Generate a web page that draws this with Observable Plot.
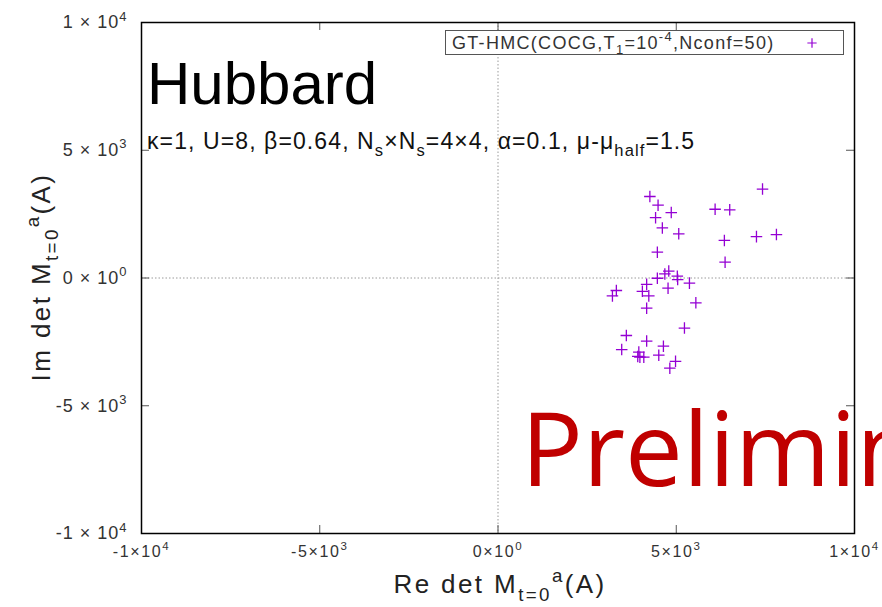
<!DOCTYPE html>
<html><head><meta charset="utf-8">
<script src="https://cdn.jsdelivr.net/npm/d3@7"></script>
<script src="https://cdn.jsdelivr.net/npm/@observablehq/plot@0.6"></script>
<style>
html,body{margin:0;padding:0;background:#fff;}
#chart svg{display:block;font-family:"Liberation Sans",Arial,sans-serif;}
</style>
</head><body><div id="chart"></div>
<script>
// ---- data ----
const reDet = [4260,4490,4860,4420,4610,5070,4470,7420,6090,6500,6350,7250,7810,6370,4790,4680,4470,5030,5040,5370,4170,4770,3320,3210,4050,4230,5550,4170,5230,3600,4170,4640,3470,3950,3980,4090,3920,4510,4980,4820];
const imDet = [3190,2850,2560,2360,1960,1730,1010,3480,2690,2670,1470,1620,1700,620,270,160,-10,70,-60,-200,-250,-400,-490,-700,-520,-700,-970,-1180,-1960,-2250,-2470,-2670,-2800,-2900,-3100,-3100,-3070,-3020,-3260,-3530];
const xTicks = [-10000,-5000,0,5000,10000];
const xTickLabels = ["-1×10^4","-5×10^3","0×10^0","5×10^3","1×10^4"];
const yTicks = [-10000,-5000,0,5000,10000];
const yTickLabels = ["-1 × 10^4","-5 × 10^3","0 × 10^0","5 × 10^3","1 × 10^4"];
const seriesName = "GT-HMC(COCG,T_1=10^{-4},Nconf=50)";
const xLabel = "Re det M_{t=0}^a(A)";
const yLabel = "Im det M_{t=0}^a(A)";
const titleText = "Hubbard";
const paramText = "κ=1, U=8, β=0.64, N_s×N_s=4×4, α=0.1, μ-μ_{half}=1.5";
const stampText = "Preliminary";

const W = 882, H = 607, mL = 141, mR = 28, mT = 22, mB = 74;
const pw = W - mL - mR, ph = H - mT - mB, tk = 8;
const color = "#9400d3";

const points = reDet.map((x, i) => ({x, y: imDet[i]}));
const xMap = new Map(xTicks.map((t, i) => [t, xTickLabels[i]]));
const yMap = new Map(yTicks.map((t, i) => [t, yTickLabels[i]]));

const chart = Plot.plot({
  width: W, height: H,
  marginLeft: mL, marginRight: mR, marginTop: mT, marginBottom: mB,
  x: {domain: [-10000, 10000]},
  y: {domain: [-10000, 10000]},
  style: {fontFamily: "Liberation Sans, Arial, sans-serif", background: "#fff"},
  marks: [
    Plot.ruleX([0], {x: d => d, stroke: "#9a9a9a", strokeDasharray: "1.5,2", strokeWidth: 1}),
    Plot.ruleY([0], {y: d => d, stroke: "#9a9a9a", strokeDasharray: "1.5,2", strokeWidth: 1}),
    Plot.ruleX(xTicks, {x: d => d, insetTop: ph - tk, stroke: "#555"}),
    Plot.ruleX(xTicks, {x: d => d, insetBottom: ph - tk, stroke: "#555"}),
    Plot.ruleY(yTicks, {y: d => d, insetRight: pw - tk, stroke: "#555"}),
    Plot.ruleY(yTicks, {y: d => d, insetLeft: pw - tk, stroke: "#555"}),
    Plot.axisX({ticks: xTicks, tickFormat: d => xMap.get(d), tickSize: 0, tickPadding: 12, fontSize: 16, label: null, fill: "#333"}),
    Plot.axisY({ticks: yTicks, tickFormat: d => yMap.get(d), tickSize: 0, tickPadding: 14, fontSize: 18, label: null, fill: "#333"}),
    Plot.dot(points, {x: "x", y: "y", symbol: "plus", r: 3.8, stroke: color, strokeWidth: 1.3}),
    Plot.frame({stroke: "#000", strokeWidth: 1.5})
  ]
});
document.getElementById("chart").appendChild(chart);

// rich text helper: _x / _{..} subscripts, ^x / ^{..} superscripts
function rich(sel, str, size) {
  sel.text(null);
  const parts = [];
  let i = 0;
  while (i < str.length) {
    const c = str[i];
    if (c === "_" || c === "^") {
      i++;
      let content;
      if (str[i] === "{") { const j = str.indexOf("}", i); content = str.slice(i + 1, j); i = j + 1; }
      else { content = str[i]; i++; }
      parts.push({t: content, shift: c === "^" ? -0.42 : 0.3});
    } else {
      let j = i;
      while (j < str.length && str[j] !== "_" && str[j] !== "^") j++;
      parts.push({t: str.slice(i, j), shift: 0});
      i = j;
    }
  }
  let off = 0;
  for (const p of parts) {
    const target = p.shift * size;
    sel.append("tspan").attr("dy", target - off).attr("font-size", p.shift ? size * 0.72 : size).text(p.t);
    off = target;
  }
}

const svg = d3.select(chart);
svg.selectAll('[aria-label="x-axis tick label"] text').each(function() {
  const s = d3.select(this); rich(s, this.textContent, 16); s.attr("letter-spacing", "1.6px");
});
svg.selectAll('[aria-label="y-axis tick label"] text').each(function() {
  const s = d3.select(this); rich(s, this.textContent, 18); s.attr("letter-spacing", "1px");
});

// watermark behind everything
svg.insert("text", ":first-child")
  .attr("x", 521).attr("y", 486).attr("text-anchor", "start")
  .attr("font-family", "Open Sans, sans-serif").attr("font-size", 103)
  .attr("fill", "#c00000").text(stampText);
svg.insert("rect", ":first-child").attr("width", W).attr("height", H).attr("fill", "#fff");

// title and parameters
svg.append("text").attr("x", 147).attr("y", 104).attr("text-anchor", "start").attr("font-size", 60).attr("fill", "#000").text(titleText);
const pt = svg.append("text").attr("x", 147).attr("y", 149).attr("text-anchor", "start").attr("fill", "#111").attr("letter-spacing", "1.1px");
rich(pt, paramText, 23);

// axis labels
const xl = svg.append("text").attr("x", 500).attr("y", 593).attr("text-anchor", "middle").attr("fill", "#222").attr("letter-spacing", "2.4px");
rich(xl, xLabel, 26);
const yl = svg.append("text").attr("transform", "translate(50,277) rotate(-90)").attr("text-anchor", "middle").attr("fill", "#222").attr("letter-spacing", "2.4px");
rich(yl, yLabel, 26);

// legend
const lg = svg.append("g");
lg.append("rect").attr("x", 445.5).attr("y", 30.5).attr("width", 398).attr("height", 24).attr("fill", "#fff").attr("stroke", "#555");
const lt = lg.append("text").attr("x", 452).attr("y", 49).attr("text-anchor", "start").attr("fill", "#333").attr("letter-spacing", "1.3px");
rich(lt, seriesName, 18);
lg.append("path").attr("d", d3.symbol(d3.symbolPlus, 30)()).attr("transform", "translate(812,43)").attr("stroke", color).attr("fill", "none").attr("stroke-width", 1.2);
</script>
</body></html>
